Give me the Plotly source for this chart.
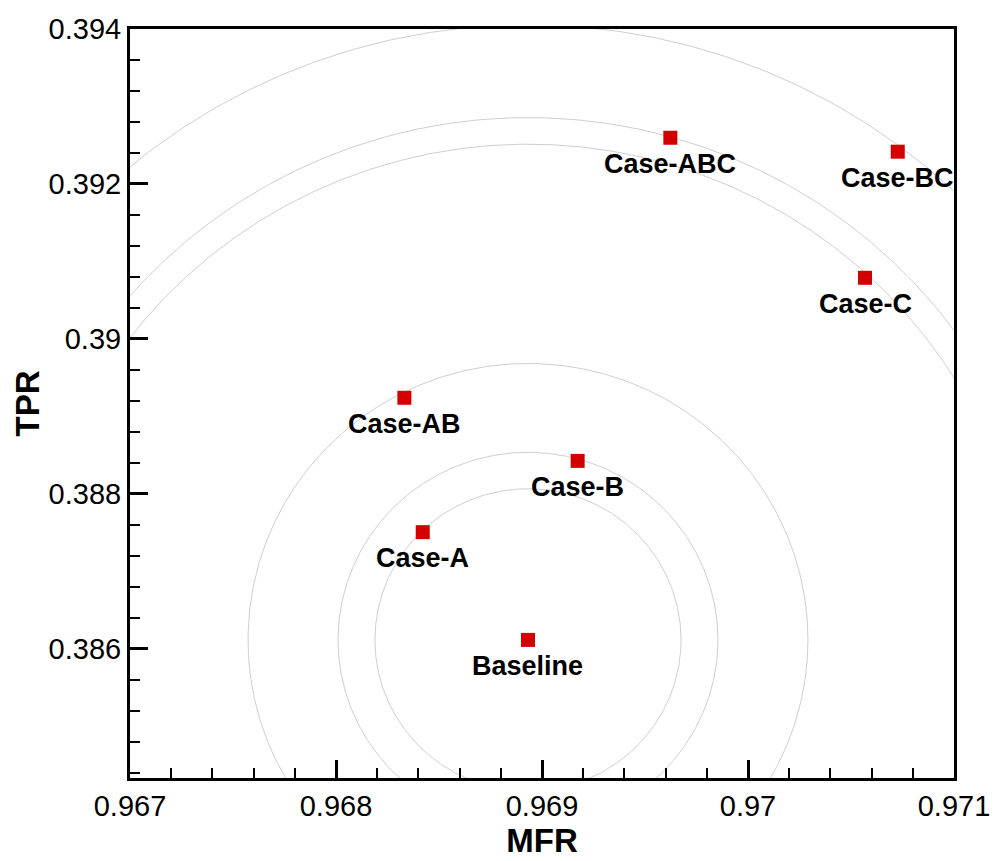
import numpy as np
import plotly.graph_objects as go

# ---- data ----
cases = ["Baseline", "Case-A", "Case-B", "Case-C", "Case-AB", "Case-BC", "Case-ABC"]
mfr = [0.968932, 0.968421, 0.969173, 0.970568, 0.968332, 0.970727, 0.969623]
tpr = [0.386113, 0.387504, 0.388424, 0.390788, 0.389239, 0.392416, 0.392596]

# reference rings centred on Baseline: horizontal radius in MFR units
ring_rx = [0.000743, 0.000922, 0.001359, 0.002437, 0.002568, 0.003024]
ring_ry_ratio = 2.626  # TPR-units per MFR-unit of radius (makes rings round on screen)

x_range = [0.967, 0.971]
y_range = [0.38433, 0.394]

FONT = "Liberation Sans, Arial, sans-serif"

fig = go.Figure()

theta = np.linspace(0, 2 * np.pi, 721)
cx, cy = mfr[0], tpr[0]
for r in ring_rx:
    fig.add_trace(go.Scatter(
        x=cx + r * np.cos(theta),
        y=cy + r * ring_ry_ratio * np.sin(theta),
        mode="lines",
        line=dict(color="#cfcfcf", width=1),
        hoverinfo="skip",
        showlegend=False,
    ))

fig.add_trace(go.Scatter(
    x=mfr, y=tpr, text=cases,
    mode="markers",
    marker=dict(symbol="square", size=14, color="#d40000", line=dict(width=0)),
    showlegend=False,
))

for xv, yv, name in zip(mfr, tpr, cases):
    fig.add_annotation(
        x=xv, y=yv, text=name, xref="x", yref="y",
        showarrow=False, xanchor="center", yanchor="top", yshift=-9,
        font=dict(family=FONT, size=27, color="black", weight="bold"),
    )

axis_common = dict(
    showgrid=False, zeroline=False,
    showline=True, linecolor="black", linewidth=3, mirror=True,
    ticks="inside", ticklen=18, tickwidth=3, tickcolor="black",
    tickfont=dict(family=FONT, size=29, color="black"),
)

fig.update_layout(
    width=1003, height=861,
    margin=dict(l=130, r=49, t=29, b=81),
    paper_bgcolor="white", plot_bgcolor="white",
    xaxis=dict(
        range=x_range, tick0=0.967, dtick=0.001,
        minor=dict(dtick=0.0002, tick0=0.967, ticks="inside", ticklen=10, tickwidth=1.5, tickcolor="black"),
        title=dict(text="MFR", standoff=4,
                   font=dict(family=FONT, size=33, color="black", weight="bold")),
        **axis_common,
    ),
    yaxis=dict(
        range=y_range, tick0=0.384, dtick=0.002,
        minor=dict(dtick=0.0004, tick0=0.384, ticks="inside", ticklen=10, tickwidth=1.5, tickcolor="black"),
        title=dict(text="TPR", standoff=0,
                   font=dict(family=FONT, size=33, color="black", weight="bold")),
        **axis_common,
    ),
)

fig.write_html("out.html")
